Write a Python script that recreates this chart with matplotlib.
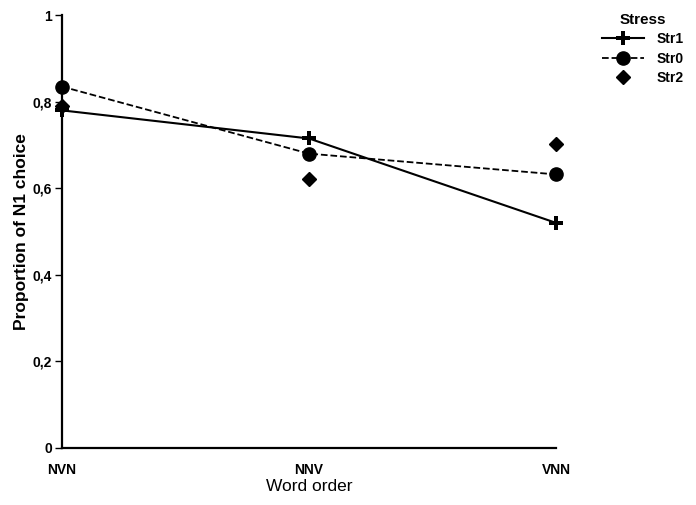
import matplotlib.pyplot as plt

orders = ['NVN', 'NNV', 'VNN']
str1 = [0.78, 0.715, 0.52]
str0 = [0.835, 0.68, 0.632]
str2 = [0.79, 0.622, 0.702]

plt.rcParams['font.family'] = ['Liberation Sans', 'DejaVu Sans']

fig = plt.figure(figsize=(6.96, 5.05), dpi=100)
ax = fig.add_axes([0.089, 0.113, 0.71, 0.857])

x = range(len(orders))
ax.plot(x, str1, '-', color='black', lw=1.5, marker='P', ms=10, mew=0, label='Str1', clip_on=False)
ax.plot(x, str0, '--', color='black', lw=1.3, marker='o', ms=9.5, label='Str0', clip_on=False)
ax.plot(x, str2, linestyle='none', color='black', marker='D', ms=7, label='Str2', clip_on=False)

ax.set_xlim(0, 2)
ax.set_ylim(0, 1)
ax.set_xticks(list(x))
ax.set_xticklabels(orders, fontweight='bold', fontsize=10)
ax.set_yticks([0, 0.2, 0.4, 0.6, 0.8, 1])
ax.set_yticklabels(['0', '0,2', '0,4', '0,6', '0,8', '1'], fontweight='bold', fontsize=10)
ax.tick_params(axis='x', length=0, pad=11)
ax.tick_params(axis='y', length=5, width=1, direction='out', pad=2)
for s in ['top', 'right']:
    ax.spines[s].set_visible(False)
ax.spines['left'].set_linewidth(1.6)
ax.spines['bottom'].set_linewidth(1.6)

ax.set_xlabel('Word order', fontsize=12.5, labelpad=1)
ax.set_ylabel('Proportion of N1 choice', fontsize=12.5, fontweight='bold', labelpad=3)

leg = fig.legend(loc='upper right', bbox_to_anchor=(1.0, 1.0), frameon=False,
                 title='Stress', fontsize=10, title_fontsize=11,
                 handlelength=3.0, labelspacing=0.4, handletextpad=0.9)
for t in leg.get_texts():
    t.set_fontweight('bold')
leg.get_title().set_fontweight('bold')

fig.savefig('out.png', dpi=100)
